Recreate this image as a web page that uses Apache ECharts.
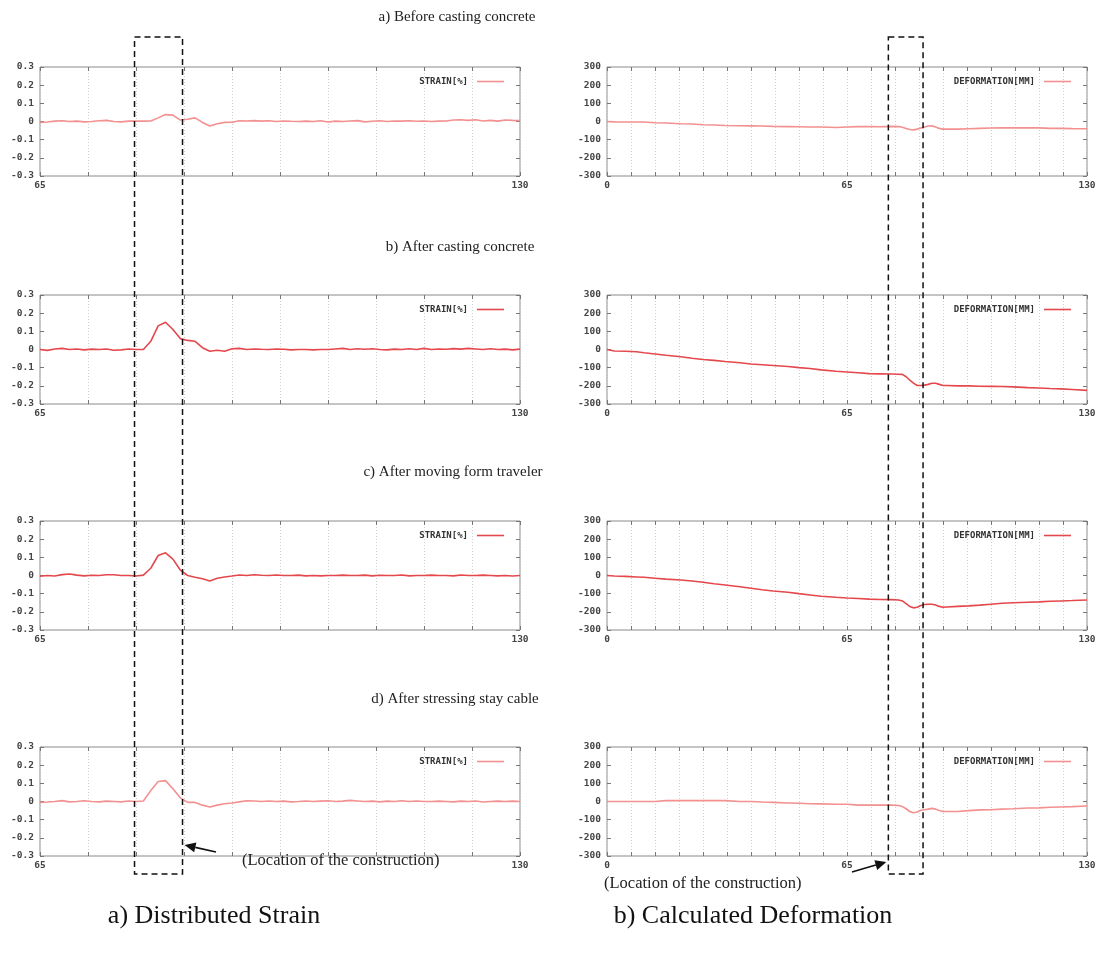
<!DOCTYPE html>
<html>
<head>
<meta charset="utf-8">
<script src="https://cdn.jsdelivr.net/npm/echarts@6/dist/echarts.min.js"></script>
<style>
html,body{margin:0;padding:0;background:#fff;}
#chart{width:1104px;height:960px;}
</style>
</head>
<body>
<div id="chart"></div>
<script>
// ---- Data ----
const stageTitles = ['a) Before casting concrete', 'b) After casting concrete', 'c) After moving form traveler', 'd) After stressing stay cable'];
const captions = ['a) Distributed Strain', 'b) Calculated Deformation'];
const locationText = '(Location of the construction)';
const strainLegend = 'STRAIN[%]';
const deformLegend = 'DEFORMATION[MM]';

// Strain: positions 65..130 step 1
const strainX = [65,66,67,68,69,70,71,72,73,74,75,76,77,78,79,80,81,82,83,84,85,86,87,88,89,90,91,92,93,94,95,96,97,98,99,100,101,102,103,104,105,106,107,108,109,110,111,112,113,114,115,116,117,118,119,120,121,122,123,124,125,126,127,128,129,130];
const strainA = [-0.005,-0.003,0.002,0.004,0.0,0.002,-0.002,0.0,0.004,0.006,0.0,-0.002,0.002,0.002,0.002,0.003,0.02,0.038,0.035,0.008,0.012,0.02,-0.005,-0.025,-0.012,-0.005,-0.004,0.004,0.003,0.005,0.002,0.004,0.0,0.003,0.001,0.0,0.002,0.0,0.004,-0.003,0.002,0.0,0.003,0.005,-0.002,0.001,0.004,0.0,0.003,0.002,0.004,0.001,0.003,0.0,0.002,0.003,0.008,0.01,0.006,0.01,0.003,0.006,0.002,0.008,0.006,0.005];
const strainB = [0.0,-0.005,0.003,0.006,0.0,0.003,-0.002,0.002,0.0,0.003,-0.004,-0.002,0.003,0.0,0.0,0.045,0.13,0.15,0.11,0.06,0.05,0.045,0.01,-0.01,-0.004,-0.01,0.004,0.006,0.0,0.003,0.001,0.0,0.003,0.001,-0.002,0.0,0.0,-0.002,0.0,0.0,0.003,0.006,0.0,0.004,0.001,0.004,0.0,-0.002,0.002,0.0,0.004,0.0,0.006,0.0,0.003,0.001,0.005,0.002,0.006,0.003,0.0,0.004,0.0,0.002,-0.002,0.002];
const strainC = [-0.004,0.0,-0.003,0.005,0.008,0.002,-0.002,0.001,0.0,0.004,0.004,0.0,0.0,-0.003,0.002,0.04,0.11,0.125,0.09,0.03,0.0,-0.01,-0.018,-0.03,-0.015,-0.008,-0.003,0.003,0.0,0.004,0.001,0.0,0.003,0.0,0.0,0.002,-0.002,0.0,-0.002,0.0,0.0,0.002,0.0,0.0,0.002,-0.002,0.001,0.0,0.0,0.003,-0.002,0.0,0.0,0.002,0.0,0.0,-0.002,0.003,0.0,0.0,0.002,0.0,-0.002,0.0,-0.003,0.0];
const strainD = [-0.005,-0.003,0.0,0.005,-0.002,0.0,0.004,0.0,-0.002,0.002,0.0,-0.002,0.003,0.0,0.003,0.06,0.11,0.115,0.07,0.02,-0.005,-0.005,-0.02,-0.03,-0.02,-0.012,-0.008,-0.002,0.004,0.003,0.0,0.003,0.0,0.002,-0.002,0.0,0.003,0.0,0.002,0.004,0.0,0.002,0.006,0.003,0.0,0.002,-0.002,0.002,0.0,0.004,0.0,0.003,0.0,0.0,0.002,0.0,-0.002,0.002,0.0,0.003,-0.003,0.0,0.002,0.0,0.002,0.0];

// Deformation: positions along 0..130
const deformX = [0,2,5,8,10,13,16,20,23,26,29,32,36,39,42,45,49,52,55,58,62,65,68,71,74,77,79,80,81,82,83,84,85,86,87,88,89,90,91,92,95,98,101,104,107,110,114,117,120,123,126,130];
const deformA = [0,-2,-3,-3,-3,-7,-8,-12,-14,-18,-19,-22,-23,-24,-25,-27,-28,-29,-30,-30,-33,-30,-28,-28,-29,-27,-28,-32,-38,-44,-46,-42,-36,-30,-25,-24,-30,-38,-42,-42,-42,-40,-38,-36,-35,-35,-34,-35,-38,-38,-39,-40];
const deformB = [0,-8,-10,-12,-18,-25,-32,-40,-48,-55,-60,-66,-73,-80,-84,-88,-94,-100,-105,-112,-120,-124,-128,-133,-134,-135,-136,-137,-150,-168,-185,-198,-198,-196,-192,-186,-186,-192,-198,-198,-200,-200,-202,-203,-204,-206,-210,-212,-215,-217,-220,-225];
const deformC = [0,-3,-5,-8,-10,-15,-20,-25,-30,-37,-45,-52,-62,-70,-78,-85,-92,-100,-107,-114,-120,-124,-127,-130,-132,-133,-135,-140,-155,-170,-178,-175,-165,-160,-158,-158,-162,-170,-175,-173,-170,-167,-163,-158,-153,-150,-147,-145,-142,-140,-138,-135];
const deformD = [0,0,0,0,0,0,5,5,5,5,5,5,0,0,-3,-5,-8,-10,-12,-13,-15,-15,-20,-20,-20,-20,-22,-28,-40,-55,-62,-58,-48,-45,-42,-38,-42,-50,-55,-55,-55,-50,-46,-45,-42,-40,-36,-35,-32,-30,-28,-25];

// Location-of-construction window (axis units)
const strainWindow = [77.8, 84.3];
const deformWindow = [76.2, 85.6];

// ---- Layout / style ----
const rowTops = [67, 295, 521, 747];
const plotH = 109;
const leftX = 40, rightX = 607, plotW = 480;
const colors = ['#f39090', '#e5484c', '#e5484c', '#f39090'];
const monoFont = 'DejaVu Sans Mono';
const serif = 'Liberation Serif';

const strainSets = [strainA, strainB, strainC, strainD];
const deformSets = [deformA, deformB, deformC, deformD];
const zip = (xs, ys) => xs.map((x, i) => [x, ys[i]]);

const grids = [], xAxes = [], yAxes = [], series = [], legends = [];
const tickLabelStyle = {fontFamily: monoFont, fontWeight: 'bold', fontSize: 9.5, color: '#444'};

function addPanel(gi, left, top, xmin, xmax, xlabels, ymin, ymax, yint, name, data, color, legendText) {
  grids.push({left: left, top: top, width: plotW, height: plotH, show: true, borderColor: '#8a8a8a', borderWidth: 1, backgroundColor: 'transparent'});
  const xi = xAxes.length, yi = yAxes.length;
  xAxes.push({
    type: 'value', gridIndex: gi, min: xmin, max: xmax, interval: 6.5, position: 'bottom',
    axisLine: {show: false, onZero: false},
    axisTick: {show: true, inside: true, length: 4, lineStyle: {color: '#777'}},
    splitLine: {show: true, lineStyle: {color: '#d0d0d0', type: [1, 2], width: 1}},
    axisLabel: Object.assign({margin: 5, formatter: v => {
      const hit = xlabels.find(l => Math.abs(l - v) < 1e-6);
      return hit !== undefined ? String(hit) : '';
    }}, tickLabelStyle)
  });
  xAxes.push({
    type: 'value', gridIndex: gi, min: xmin, max: xmax, interval: 6.5, position: 'top',
    axisLine: {show: false, onZero: false},
    axisTick: {show: true, inside: true, length: 4, lineStyle: {color: '#777'}},
    splitLine: {show: false}, axisLabel: {show: false}
  });
  yAxes.push({
    type: 'value', gridIndex: gi, min: ymin, max: ymax, interval: yint, position: 'left',
    axisLine: {show: false, onZero: false},
    axisTick: {show: true, inside: true, length: 4, lineStyle: {color: '#777'}},
    splitLine: {show: false},
    axisLabel: Object.assign({margin: 6}, tickLabelStyle)
  });
  yAxes.push({
    type: 'value', gridIndex: gi, min: ymin, max: ymax, interval: yint, position: 'right',
    axisLine: {show: false, onZero: false},
    axisTick: {show: true, inside: true, length: 4, lineStyle: {color: '#777'}},
    splitLine: {show: false}, axisLabel: {show: false}
  });
  series.push({
    type: 'line', name: name, xAxisIndex: xi, yAxisIndex: yi, data: data,
    showSymbol: false, symbol: 'none', smooth: false, animation: false,
    lineStyle: {color: color, width: 1.6}, itemStyle: {color: color}
  });
  legends.push({
    data: [name], top: top + 5, right: 1104 - (left + plotW) + 11,
    align: 'right', icon: 'rect', itemWidth: 27, itemHeight: 1.6, itemGap: 4,
    formatter: () => legendText,
    textStyle: {fontFamily: monoFont, fontWeight: 'bold', fontSize: 9, color: '#333', padding: [0, 4, 0, 0]},
    selectedMode: false
  });
}

for (let r = 0; r < 4; r++) {
  addPanel(grids.length, leftX, rowTops[r], 65, 130, [65, 130], -0.3, 0.3, 0.1,
    'strain_' + r, zip(strainX, strainSets[r]), colors[r], strainLegend);
  addPanel(grids.length, rightX, rowTops[r], 0, 130, [0, 65, 130], -300, 300, 100,
    'deform_' + r, zip(deformX, deformSets[r]), colors[r], deformLegend);
}

const titleCenters = [[452, 15], [455, 245], [448, 470], [450, 697]];
const titles = stageTitles.map((t, i) => ({
  text: t, left: titleCenters[i][0], top: titleCenters[i][1] - 10, textAlign: 'center',
  textStyle: {fontFamily: serif, fontSize: 15, fontWeight: 'normal', color: '#222'}
}));
titles.push({text: captions[0], left: 209, top: 898, textAlign: 'center',
  textStyle: {fontFamily: serif, fontSize: 26, fontWeight: 'normal', color: '#111'}});
titles.push({text: captions[1], left: 748, top: 898, textAlign: 'center',
  textStyle: {fontFamily: serif, fontSize: 26, fontWeight: 'normal', color: '#111'}});

const chart = echarts.init(document.getElementById('chart'), null, {renderer: 'canvas'});
chart.setOption({
  animation: false,
  backgroundColor: '#fff',
  title: titles,
  grid: grids, xAxis: xAxes, yAxis: yAxes, series: series, legend: legends
});

// Annotation overlays: dashed windows positioned via the axes
function arrow(x1, y1, x2, y2) {
  const ang = Math.atan2(y2 - y1, x2 - x1), L = 11, W = 5;
  const bx = x2 - L * Math.cos(ang), by = y2 - L * Math.sin(ang);
  const nx = -Math.sin(ang), ny = Math.cos(ang);
  return [
    {type: 'line', shape: {x1: x1, y1: y1, x2: bx, y2: by}, style: {stroke: '#111', lineWidth: 1.6}, silent: true},
    {type: 'polygon', shape: {points: [[x2, y2], [bx + nx * W, by + ny * W], [bx - nx * W, by - ny * W]]}, style: {fill: '#111'}, silent: true}
  ];
}
const boxTop = 37, boxBottom = 874;
const sl = chart.convertToPixel({xAxisIndex: 0}, strainWindow[0]);
const sr = chart.convertToPixel({xAxisIndex: 0}, strainWindow[1]);
const dl = chart.convertToPixel({xAxisIndex: 2}, deformWindow[0]);
const dr = chart.convertToPixel({xAxisIndex: 2}, deformWindow[1]);
const dashStyle = {stroke: '#111', lineWidth: 1.5, lineDash: [6, 4], fill: null};
const graphics = [
  {type: 'rect', shape: {x: sl, y: boxTop, width: sr - sl, height: boxBottom - boxTop}, style: dashStyle, silent: true},
  {type: 'rect', shape: {x: dl, y: boxTop, width: dr - dl, height: boxBottom - boxTop}, style: dashStyle, silent: true},
  {type: 'text', x: 242, y: 861, style: {text: locationText, font: '16.5px "Liberation Serif"', fill: '#222', textVerticalAlign: 'middle'}, silent: true},
  {type: 'text', x: 604, y: 884, style: {text: locationText, font: '16.5px "Liberation Serif"', fill: '#222', textVerticalAlign: 'middle'}, silent: true}
].concat(arrow(216, 852, sr + 2, 845)).concat(arrow(852, 872, dl - 2, 862));
chart.setOption({graphic: graphics.map(g => Object.assign({z: 100}, g))});
</script>
</body>
</html>
